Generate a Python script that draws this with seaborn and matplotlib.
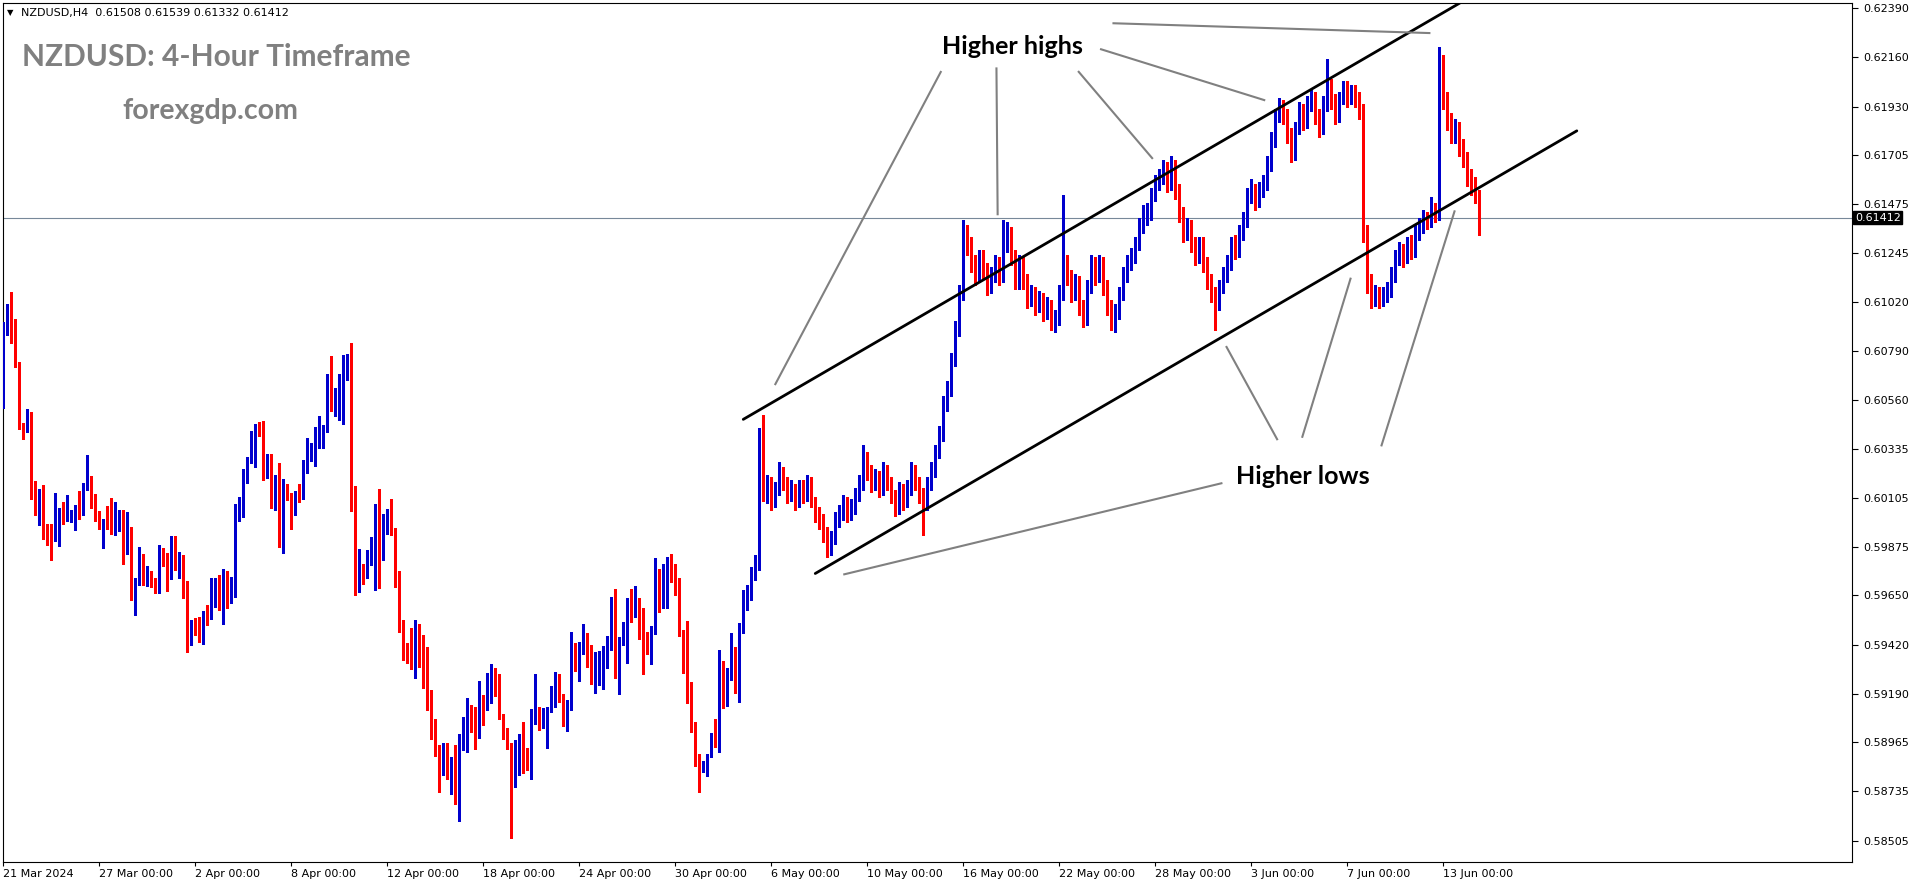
import numpy as np
import pandas as pd
import matplotlib
matplotlib.use('Agg')
import matplotlib.pyplot as plt
import seaborn as sns

# NZDUSD H4 candles (one entry per 4-hour bar, from 21 Mar 2024)
first_open = 0.60794

closes = [
    0.60880, 0.60938, 0.60854, 0.60735, 0.60437, 0.60434, 0.60496, 0.60107, 0.60082, 0.60102,
    0.59952, 0.59927, 0.59924, 0.59973, 0.60029, 0.60020, 0.60025, 0.60036, 0.60067, 0.60045,
    0.60169, 0.60179, 0.60073, 0.60039, 0.59989, 0.59992, 0.59973, 0.59945, 0.59986, 0.60045,
    0.59905, 0.59917, 0.59634, 0.59726, 0.59815, 0.59718, 0.59753, 0.59709, 0.59703, 0.59824,
    0.59796, 0.59750, 0.59899, 0.59802, 0.59824, 0.59700, 0.59423, 0.59531, 0.59495, 0.59457,
    0.59554, 0.59551, 0.59619, 0.59712, 0.59588, 0.59722, 0.59649, 0.59666, 0.60034, 0.60086,
    0.60230, 0.60277, 0.60370, 0.60422, 0.60409, 0.60255, 0.60296, 0.60073, 0.60184, 0.59956,
    0.60151, 0.60115, 0.60048, 0.60128, 0.60115, 0.60225, 0.60291, 0.60319, 0.60407, 0.60422,
    0.60428, 0.60655, 0.60524, 0.60596, 0.60619, 0.60734, 0.60739, 0.60153, 0.59737, 0.59745,
    0.59742, 0.59859, 0.59868, 0.60069, 0.59843, 0.59965, 0.60039, 0.59938, 0.59738, 0.59519,
    0.59382, 0.59359, 0.59342, 0.59469, 0.59397, 0.59346, 0.59182, 0.59028, 0.58910, 0.58851,
    0.58877, 0.58851, 0.58864, 0.58799, 0.58990, 0.59020, 0.59083, 0.59045, 0.58992, 0.59167,
    0.59130, 0.59199, 0.59302, 0.59233, 0.59085, 0.59014, 0.58940, 0.58828, 0.58906, 0.58940,
    0.58904, 0.58870, 0.59054, 0.59115, 0.59062, 0.59073, 0.59115, 0.59195, 0.59256, 0.59169,
    0.59066, 0.59153, 0.59386, 0.59317, 0.59423, 0.59451, 0.59367, 0.59275, 0.59279, 0.59353,
    0.59386, 0.59419, 0.59628, 0.59289, 0.59447, 0.59484, 0.59633, 0.59560, 0.59610, 0.59537,
    0.59401, 0.59383, 0.59493, 0.59740, 0.59633, 0.59652, 0.59792, 0.59773, 0.59675, 0.59485,
    0.59423, 0.59162, 0.59042, 0.58859, 0.58832, 0.58859, 0.58901, 0.58975, 0.58966, 0.59293,
    0.59206, 0.59269, 0.59339, 0.59283, 0.59493, 0.59614, 0.5966, 0.5975, 0.5980, 0.6040,
    0.6012, 0.6017, 0.6009, 0.6015, 0.6023, 0.6017, 0.6012, 0.6015, 0.6009, 0.6016,
    0.6012, 0.6017, 0.6009, 0.6003, 0.6000, 0.5995, 0.5987, 0.5992, 0.6000, 0.6003,
    0.6009, 0.6003, 0.6006, 0.6012, 0.6017, 0.6029, 0.6023, 0.6017, 0.6020, 0.6015,
    0.6023, 0.6017, 0.6012, 0.6006, 0.6015, 0.6009, 0.6015, 0.6023, 0.6017, 0.6012,
    0.6009, 0.6017, 0.6023, 0.6032, 0.6040, 0.6055, 0.6061, 0.6075, 0.6089, 0.6106,
    0.6134, 0.6129, 0.6120, 0.6114, 0.6123, 0.6117, 0.6109, 0.6114, 0.6120, 0.6114,
    0.6129, 0.6134, 0.6123, 0.6112, 0.6120, 0.6112, 0.6103, 0.6106, 0.6100, 0.6103,
    0.6097, 0.6100, 0.6093, 0.6094, 0.6106, 0.6120, 0.6114, 0.6106, 0.6112, 0.6100,
    0.6094, 0.6109, 0.6120, 0.6114, 0.6120, 0.6109, 0.6100, 0.6093, 0.6097, 0.6106,
    0.6114, 0.6120, 0.6123, 0.6129, 0.6137, 0.6143, 0.6143, 0.6152, 0.6157, 0.6160,
    0.6164, 0.6157, 0.6166, 0.6154, 0.6143, 0.6134, 0.6137, 0.6129, 0.6123, 0.6129,
    0.6120, 0.6112, 0.6106, 0.6101, 0.6109, 0.6114, 0.6120, 0.6129, 0.6126, 0.6134,
    0.6140, 0.6152, 0.6154, 0.6149, 0.6154, 0.6157, 0.6166, 0.6177, 0.6189, 0.6193,
    0.6189, 0.6180, 0.6171, 0.6183, 0.6191, 0.6186, 0.6194, 0.6197, 0.6189, 0.6183,
    0.6194, 0.6203, 0.6196, 0.6189, 0.6197, 0.6202, 0.6197, 0.6200, 0.6197, 0.6191,
    0.6134, 0.6112, 0.6103, 0.6106, 0.6103, 0.6106, 0.6107, 0.6114, 0.6123, 0.6126,
    0.6123, 0.6129, 0.6126, 0.6134, 0.6137, 0.6141, 0.6140, 0.6145, 0.6143, 0.6214,
    0.6197, 0.6186, 0.6180, 0.6183, 0.6174, 0.6169, 0.6160, 0.6157, 0.61508, 0.61412,
]

highs = [
    0.60927, 0.61009, 0.61063, 0.60938, 0.60738, 0.60452, 0.60520, 0.60506, 0.60183, 0.60144,
    0.60165, 0.59983, 0.59983, 0.60129, 0.60057, 0.60085, 0.60118, 0.60048, 0.60073, 0.60137,
    0.60175, 0.60305, 0.60207, 0.60123, 0.60043, 0.60008, 0.60067, 0.60104, 0.60085, 0.60050,
    0.60050, 0.60039, 0.59969, 0.59732, 0.59877, 0.59843, 0.59787, 0.59765, 0.59731, 0.59885,
    0.59871, 0.59846, 0.59927, 0.59927, 0.59852, 0.59837, 0.59717, 0.59536, 0.59544, 0.59548,
    0.59577, 0.59604, 0.59731, 0.59731, 0.59743, 0.59773, 0.59764, 0.59736, 0.60076, 0.60107,
    0.60238, 0.60297, 0.60418, 0.60450, 0.60459, 0.60463, 0.60310, 0.60310, 0.60212, 0.60268,
    0.60193, 0.60170, 0.60128, 0.60135, 0.60170, 0.60282, 0.60386, 0.60362, 0.60435, 0.60487,
    0.60445, 0.60683, 0.60767, 0.60619, 0.60683, 0.60771, 0.60776, 0.60827, 0.60160, 0.59866,
    0.59798, 0.59863, 0.59924, 0.60075, 0.60145, 0.60029, 0.60052, 0.60100, 0.59962, 0.59765,
    0.59536, 0.59428, 0.59498, 0.59536, 0.59517, 0.59466, 0.59409, 0.59209, 0.59073, 0.58952,
    0.58959, 0.58959, 0.58896, 0.58952, 0.59003, 0.59083, 0.59173, 0.59138, 0.59130, 0.59250,
    0.59186, 0.59289, 0.59330, 0.59311, 0.59281, 0.59096, 0.59033, 0.58963, 0.58976, 0.59003,
    0.59060, 0.58938, 0.59121, 0.59283, 0.59129, 0.59125, 0.59129, 0.59228, 0.59291, 0.59281,
    0.59190, 0.59162, 0.59479, 0.59428, 0.59433, 0.59516, 0.59474, 0.59417, 0.59386, 0.59391,
    0.59414, 0.59461, 0.59642, 0.59680, 0.59456, 0.59526, 0.59638, 0.59680, 0.59694, 0.59638,
    0.59591, 0.59479, 0.59507, 0.59824, 0.59773, 0.59796, 0.59829, 0.59843, 0.59796, 0.59731,
    0.59489, 0.59530, 0.59246, 0.59059, 0.58910, 0.58877, 0.58910, 0.59008, 0.59073, 0.59395,
    0.59344, 0.59311, 0.59474, 0.59409, 0.59521, 0.59675, 0.5970, 0.5978, 0.5984, 0.6043,
    0.6049, 0.6021, 0.6020, 0.6018, 0.6027, 0.6025, 0.6020, 0.6019, 0.6017, 0.6019,
    0.6019, 0.6021, 0.6020, 0.6011, 0.6006, 0.6003, 0.5997, 0.5995, 0.6004, 0.6007,
    0.6012, 0.6011, 0.6010, 0.6015, 0.6021, 0.6035, 0.6032, 0.6026, 0.6024, 0.6023,
    0.6027, 0.6026, 0.6020, 0.6014, 0.6018, 0.6017, 0.6019, 0.6027, 0.6026, 0.6020,
    0.6015, 0.6020, 0.6027, 0.6035, 0.6044, 0.6058, 0.6065, 0.6078, 0.6093, 0.6110,
    0.6140, 0.6138, 0.6132, 0.6124, 0.6126, 0.6126, 0.6120, 0.6118, 0.6124, 0.6123,
    0.6140, 0.6139, 0.6137, 0.6126, 0.6124, 0.6123, 0.6115, 0.6110, 0.6109, 0.6107,
    0.6106, 0.6104, 0.6103, 0.6098, 0.6110, 0.6152, 0.6124, 0.6117, 0.6115, 0.6114,
    0.6103, 0.6112, 0.6124, 0.6123, 0.6124, 0.6123, 0.6112, 0.6103, 0.6101, 0.6109,
    0.6118, 0.6124, 0.6127, 0.6132, 0.6141, 0.6147, 0.6148, 0.6155, 0.6161, 0.6164,
    0.6168, 0.6167, 0.6170, 0.6168, 0.6157, 0.6146, 0.6141, 0.6140, 0.6132, 0.6132,
    0.6132, 0.6123, 0.6115, 0.6109, 0.6112, 0.6118, 0.6124, 0.6132, 0.6133, 0.6138,
    0.6144, 0.6155, 0.6159, 0.6157, 0.6158, 0.6161, 0.6170, 0.6181, 0.6192, 0.6197,
    0.6196, 0.6192, 0.6183, 0.6186, 0.6195, 0.6194, 0.6198, 0.6201, 0.6200, 0.6192,
    0.6198, 0.6215, 0.6206, 0.6199, 0.6200, 0.6205, 0.6205, 0.6203, 0.6203, 0.6200,
    0.6194, 0.6138, 0.6115, 0.6110, 0.6109, 0.6109, 0.6111, 0.6118, 0.6126, 0.6130,
    0.6129, 0.6132, 0.6133, 0.6138, 0.6141, 0.6145, 0.6144, 0.6151, 0.6148, 0.6221,
    0.6217, 0.6200, 0.6190, 0.6187, 0.6186, 0.6178, 0.6172, 0.6164, 0.6160, 0.61539,
]

lows = [
    0.60522, 0.60864, 0.60826, 0.60717, 0.60424, 0.60381, 0.60413, 0.60101, 0.60026, 0.59980,
    0.59914, 0.59886, 0.59815, 0.59905, 0.59880, 0.59983, 0.59998, 0.59994, 0.59955, 0.60008,
    0.60026, 0.60141, 0.60057, 0.59998, 0.59961, 0.59872, 0.59958, 0.59936, 0.59933, 0.59952,
    0.59796, 0.59843, 0.59628, 0.59560, 0.59700, 0.59700, 0.59694, 0.59690, 0.59662, 0.59662,
    0.59787, 0.59672, 0.59728, 0.59768, 0.59731, 0.59638, 0.59387, 0.59420, 0.59467, 0.59433,
    0.59425, 0.59513, 0.59538, 0.59597, 0.59580, 0.59518, 0.59593, 0.59616, 0.59644, 0.59998,
    0.60014, 0.60176, 0.60269, 0.60250, 0.60393, 0.60190, 0.60199, 0.60059, 0.60050, 0.59877,
    0.59849, 0.60095, 0.59961, 0.60023, 0.60086, 0.60100, 0.60222, 0.60278, 0.60255, 0.60339,
    0.60339, 0.60414, 0.60512, 0.60488, 0.60470, 0.60451, 0.60655, 0.60045, 0.59653, 0.59667,
    0.59705, 0.59733, 0.59793, 0.59677, 0.59686, 0.59816, 0.59934, 0.59932, 0.59688, 0.59481,
    0.59350, 0.59333, 0.59308, 0.59264, 0.59315, 0.59220, 0.59117, 0.58978, 0.58900, 0.58731,
    0.58814, 0.58792, 0.58725, 0.58675, 0.58597, 0.58929, 0.58921, 0.59011, 0.58931, 0.58984,
    0.59047, 0.59117, 0.59150, 0.59180, 0.59072, 0.58982, 0.58934, 0.58516, 0.58757, 0.58811,
    0.58820, 0.58835, 0.58792, 0.59052, 0.59024, 0.59033, 0.58938, 0.59106, 0.59129, 0.59153,
    0.59041, 0.59019, 0.59115, 0.59299, 0.59252, 0.59378, 0.59317, 0.59238, 0.59196, 0.59233,
    0.59215, 0.59313, 0.59397, 0.59266, 0.59192, 0.59419, 0.59336, 0.59527, 0.59551, 0.59447,
    0.59285, 0.59375, 0.59331, 0.59470, 0.59572, 0.59591, 0.59591, 0.59712, 0.59652, 0.59461,
    0.59290, 0.59149, 0.59014, 0.58854, 0.58734, 0.58828, 0.58809, 0.58898, 0.58944, 0.58919,
    0.59126, 0.59136, 0.59255, 0.59196, 0.59154, 0.59475, 0.5958, 0.5963, 0.5972, 0.5977,
    0.6009, 0.6008, 0.6005, 0.6006, 0.6012, 0.6014, 0.6008, 0.6009, 0.6005, 0.6006,
    0.6008, 0.6009, 0.6006, 0.5999, 0.5996, 0.5990, 0.5983, 0.5984, 0.5989, 0.5997,
    0.6000, 0.5999, 0.6000, 0.6003, 0.6009, 0.6014, 0.6019, 0.6013, 0.6014, 0.6011,
    0.6012, 0.6014, 0.6008, 0.6002, 0.6003, 0.6005, 0.6006, 0.6012, 0.6014, 0.6008,
    0.5993, 0.6005, 0.6014, 0.6020, 0.6029, 0.6037, 0.6051, 0.6058, 0.6072, 0.6086,
    0.6103, 0.6124, 0.6116, 0.6110, 0.6111, 0.6113, 0.6105, 0.6106, 0.6111, 0.6110,
    0.6111, 0.6125, 0.6119, 0.6108, 0.6108, 0.6108, 0.6099, 0.6100, 0.6096, 0.6097,
    0.6093, 0.6094, 0.6089, 0.6088, 0.6091, 0.6103, 0.6110, 0.6102, 0.6103, 0.6096,
    0.6090, 0.6091, 0.6106, 0.6110, 0.6111, 0.6105, 0.6096, 0.6089, 0.6088, 0.6094,
    0.6103, 0.6111, 0.6117, 0.6120, 0.6126, 0.6134, 0.6138, 0.6140, 0.6149, 0.6154,
    0.6157, 0.6153, 0.6154, 0.6150, 0.6139, 0.6130, 0.6131, 0.6125, 0.6119, 0.6120,
    0.6116, 0.6108, 0.6102, 0.6089, 0.6098, 0.6106, 0.6111, 0.6117, 0.6122, 0.6123,
    0.6131, 0.6137, 0.6148, 0.6145, 0.6146, 0.6151, 0.6154, 0.6163, 0.6174, 0.6186,
    0.6185, 0.6176, 0.6167, 0.6168, 0.6180, 0.6182, 0.6183, 0.6191, 0.6185, 0.6179,
    0.6180, 0.6191, 0.6192, 0.6185, 0.6186, 0.6194, 0.6193, 0.6194, 0.6193, 0.6187,
    0.6130, 0.6106, 0.6099, 0.6100, 0.6099, 0.6100, 0.6102, 0.6104, 0.6111, 0.6119,
    0.6118, 0.6120, 0.6122, 0.6123, 0.6131, 0.6134, 0.6136, 0.6137, 0.6139, 0.6140,
    0.6192, 0.6182, 0.6176, 0.6176, 0.6170, 0.6165, 0.6156, 0.6152, 0.6148, 0.61332,
]

price_ticks = [0.62390, 0.62160, 0.61930, 0.61705, 0.61475, 0.61245, 0.61020, 0.60790,
               0.60560, 0.60335, 0.60105, 0.59875, 0.59650, 0.59420, 0.59190, 0.58965,
               0.58735, 0.58505]
date_labels = ['21 Mar 2024', '27 Mar 00:00', '2 Apr 00:00', '8 Apr 00:00', '12 Apr 00:00',
               '18 Apr 00:00', '24 Apr 00:00', '30 Apr 00:00', '6 May 00:00', '10 May 00:00',
               '16 May 00:00', '22 May 00:00', '28 May 00:00', '3 Jun 00:00', '7 Jun 00:00',
               '13 Jun 00:00']
bars_per_label = 24
last_price = 0.61412

# drawn-on annotations (bar index, price)
channel_upper = ([185.0, 364.4], [0.60471, 0.62416])
channel_lower = ([203.0, 393.4], [0.59752, 0.61817])
highs_pointers = [((234.5, 0.62096), (192.9, 0.60631)),
                  ((248.3, 0.62113), (248.6, 0.61423)),
                  ((268.7, 0.62096), (287.4, 0.61686)),
                  ((274.2, 0.62199), (315.5, 0.61959)),
                  ((277.3, 0.62319), (356.8, 0.62273))]
lows_pointers = [((304.8, 0.60174), (210.0, 0.59747)),
                 ((318.6, 0.60374), (305.7, 0.60813)),
                 ((324.7, 0.60385), (336.9, 0.61132)),
                 ((344.5, 0.60345), (362.9, 0.61446))]

BULL = '#0000CD'
BEAR = '#FF0000'

sns.set_theme(style='white')
plt.rcParams['font.family'] = ['DejaVu Sans']

n = len(closes)
assert len(highs) == n and len(lows) == n
df = pd.DataFrame({
    'x': np.arange(n),
    'open': [first_open] + closes[:-1],
    'high': highs,
    'low': lows,
    'close': closes,
})
df['high'] = df[['high', 'open', 'close']].max(axis=1)
df['low'] = df[['low', 'open', 'close']].min(axis=1)
df['up'] = df['close'] >= df['open']
colors = np.where(df['up'], BULL, BEAR)

W, H = 1916, 884
fig = plt.figure(figsize=(W / 100, H / 100), dpi=100)
ax = fig.add_axes([2.5 / W, 22 / H, (1852 - 2.5) / W, (862 - 2.5) / H])
ax.set_facecolor('white')

ax.axhline(last_price, color='#778899', lw=0.8, zorder=1)

ax.vlines(df['x'], df['low'], df['high'], colors=colors, linewidth=1.0,
          antialiased=False, zorder=3)
body = (df['close'] - df['open']).abs().clip(lower=0.00003)
ax.bar(df['x'], body, bottom=df[['open', 'close']].min(axis=1), width=0.72,
       color=colors, linewidth=0, antialiased=False, zorder=3)

for xs, ys in (channel_upper, channel_lower):
    sns.lineplot(x=xs, y=ys, ax=ax, color='black', lw=2.0, zorder=4)

for (x0, y0), (x1, y1) in highs_pointers + lows_pointers:
    ax.plot([x0, x1], [y0, y1], color='#808080', lw=1.5, zorder=4, solid_capstyle='butt')

ax.text(252.2, 0.62210, 'Higher highs', ha='center', va='center', fontsize=18,
        fontweight='bold', family='Lato', color='black', zorder=5)
ax.text(325.0, 0.60203, 'Higher lows', ha='center', va='center', fontsize=18,
        fontweight='bold', family='Lato', color='black', zorder=5)

ax.set_xlim(-0.2, 462.2)
ax.set_ylim(0.584061, 0.624157)

ax.yaxis.tick_right()
ax.set_yticks(price_ticks)
ax.set_yticklabels([f'{t:.5f}' for t in price_ticks])
ax.tick_params(axis='y', direction='out', length=4, width=0.8, labelsize=8, pad=4,
               colors='black', right=True, left=False)

xticks = [i * bars_per_label for i in range(len(date_labels))]
ax.set_xticks(xticks)
ax.set_xticklabels(date_labels)
for lab in ax.get_xticklabels():
    lab.set_horizontalalignment('left')
ax.tick_params(axis='x', direction='out', length=3, width=0.8, labelsize=8, pad=2,
               colors='black', bottom=True)

for side in ax.spines.values():
    side.set_color('black')
    side.set_linewidth(0.8)
ax.set_xlabel('')
ax.set_ylabel('')
ax.grid(False)

ax.text(1.0015, last_price, f'{last_price:.5f}', transform=ax.get_yaxis_transform(),
        ha='left', va='center', fontsize=8, color='white',
        bbox=dict(facecolor='black', edgecolor='black', pad=1.2), zorder=6)

fig.text(7 / W, 1 - 13 / H, '\u25bc', fontsize=6, va='center', ha='left', color='black')
fig.text(21 / W, 1 - 13 / H, 'NZDUSD,H4  0.61508 0.61539 0.61332 0.61412',
         fontsize=8, va='center', ha='left', color='black')

fig.text(22 / W, 1 - 57 / H, 'NZDUSD: 4-Hour Timeframe', fontsize=21.5, fontweight='bold',
         family='Lato', color='#808080', va='center', ha='left')
fig.text(122 / W, 1 - 111 / H, 'forexgdp.com', fontsize=20.5, fontweight='bold',
         family='Lato', color='#808080', va='center', ha='left')

fig.savefig('out.png', dpi=100)
